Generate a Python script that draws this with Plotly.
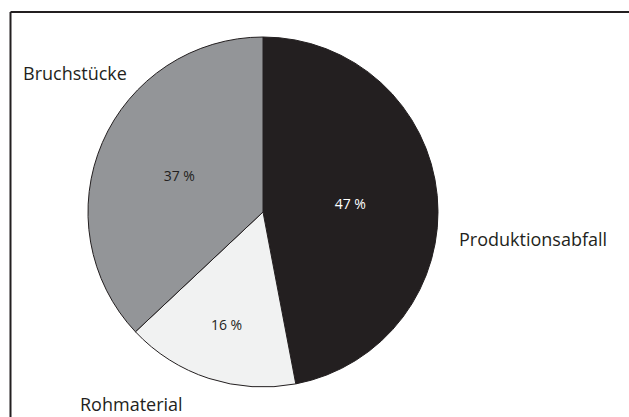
import plotly.graph_objects as go

labels = ["Produktionsabfall", "Rohmaterial", "Bruchstücke"]
values = [47, 16, 37]
colors = ["#231f20", "#f1f2f2", "#939598"]
pct_colors = ["#ffffff", "#231f20", "#231f20"]

W, H = 629, 417

def px(x):
    return x / W

def py(y):
    return 1 - y / H

fig = go.Figure(go.Pie(
    labels=labels,
    values=values,
    sort=False,
    direction="clockwise",
    rotation=0,
    texttemplate="%{value} %",
    textposition="inside",
    insidetextorientation="horizontal",
    insidetextfont=dict(family="Open Sans", size=14, color=pct_colors),
    marker=dict(colors=colors, line=dict(color="#231f20", width=1)),
    domain=dict(x=[px(263 - 175), px(263 + 175)], y=[py(212 + 175), py(212 - 175)]),
    hoverinfo="label+percent",
    showlegend=False,
))

label_pos = {"Bruchstücke": (75, 73), "Produktionsabfall": (533, 239), "Rohmaterial": (131, 404)}
for lab in labels:
    x, y = label_pos[lab]
    fig.add_annotation(x=px(x), y=py(y), xref="paper", yref="paper", text=lab,
                       showarrow=False, xanchor="center", yanchor="middle",
                       font=dict(family="Open Sans", size=18, color="#231f20"))

# open frame: top and left edges
fig.add_shape(type="line", xref="paper", yref="paper", x0=px(10.5), x1=1.01, y0=py(12), y1=py(12),
              line=dict(color="#231f20", width=2))
fig.add_shape(type="line", xref="paper", yref="paper", x0=px(10.5), x1=px(10.5), y0=py(12), y1=-0.01,
              line=dict(color="#231f20", width=2))

fig.update_layout(width=W, height=H, margin=dict(l=0, r=0, t=0, b=0),
                  paper_bgcolor="white", plot_bgcolor="white")
fig.write_html("out.html", config={"displayModeBar": False},
               post_script="document.body.style.margin='0';document.body.style.overflow='hidden';")
